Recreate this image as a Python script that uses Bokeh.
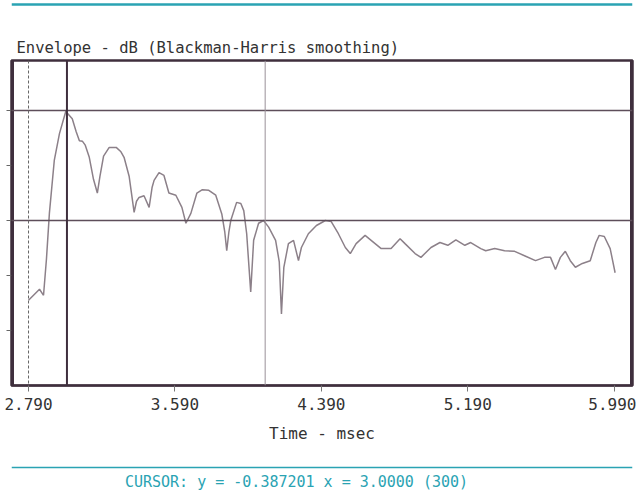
from bokeh.plotting import figure
from bokeh.layouts import column
from bokeh.models import Span, Label, FixedTicker, Range1d, PrintfTickFormatter
from bokeh.embed import file_html
from bokeh.resources import INLINE

time_ms = [2.790, 2.850, 2.872, 2.888, 2.904, 2.931, 2.959, 2.995, 3.000, 3.029, 3.050, 3.068,
           3.085, 3.100, 3.122, 3.145, 3.166, 3.180, 3.200, 3.231, 3.269, 3.295, 3.312, 3.340,
           3.367, 3.380, 3.394, 3.421, 3.449, 3.465, 3.476, 3.503, 3.530, 3.557, 3.595, 3.628,
           3.650, 3.677, 3.710, 3.740, 3.775, 3.813, 3.846, 3.862, 3.873, 3.885, 3.895, 3.927,
           3.950, 3.966, 3.982, 4.004, 4.020, 4.047, 4.074, 4.102, 4.140, 4.160, 4.172, 4.185,
           4.210, 4.238, 4.265, 4.281, 4.319, 4.363, 4.412, 4.444, 4.483, 4.521, 4.548, 4.580,
           4.629, 4.662, 4.717, 4.771, 4.820, 4.847, 4.902, 4.934, 4.989, 5.038, 5.081, 5.125,
           5.174, 5.206, 5.261, 5.288, 5.337, 5.391, 5.446, 5.500, 5.560, 5.609, 5.642, 5.669,
           5.696, 5.723, 5.750, 5.778, 5.816, 5.859, 5.890, 5.908, 5.936, 5.968, 5.995]
env_db = [-34.5, -32.5, -33.6, -27.0, -18.7, -9.0, -4.2, 0.0, -0.39, -1.5, -3.8, -5.5,
          -5.6, -6.3, -8.5, -12.5, -15.0, -12.0, -8.3, -6.7, -6.7, -7.5, -8.5, -12.0,
          -18.5, -16.5, -15.8, -15.5, -17.6, -14.0, -12.7, -11.3, -11.8, -15.0, -15.4, -17.6,
          -20.5, -18.7, -15.0, -14.4, -14.5, -15.4, -18.8, -22.0, -25.5, -22.0, -20.0, -16.7,
          -16.9, -18.2, -22.4, -33.0, -23.6, -20.5, -20.0, -21.2, -23.6, -27.5, -37.0, -28.5,
          -24.2, -23.6, -27.3, -24.9, -22.4, -20.9, -20.0, -20.2, -22.4, -24.9, -26.0, -24.2,
          -22.7, -23.6, -25.1, -25.1, -23.3, -24.2, -26.0, -26.7, -24.9, -24.0, -24.5, -23.5,
          -24.5, -24.0, -25.1, -25.5, -25.1, -25.5, -25.6, -26.4, -27.3, -26.7, -26.7, -28.9,
          -26.7, -25.6, -27.3, -28.5, -27.8, -27.3, -24.0, -22.7, -22.9, -25.1, -29.5]

x_ticks = [2.79, 3.59, 4.39, 5.19, 5.99]
y_ticks = [0, -10, -20, -30, -40]
grid_db = [0, -20]
x_start, x_end = 2.697, 6.09
y_start, y_end = -50, 9.1
start_marker = 2.79
cursor_x = 3.0
second_marker = 4.083

title_text = "Envelope - dB (Blackman-Harris smoothing)"
x_label = "Time - msec"
cursor_text = "CURSOR: y = -0.387201 x = 3.0000 (300)"

MONO = "DejaVu Sans Mono"
FRAME = "#3f2f3d"
CYAN = "#2aa3b3"
TEXT = "#333333"


def strip(fig):
    fig.xaxis.visible = False
    fig.yaxis.visible = False
    fig.xgrid.visible = False
    fig.ygrid.visible = False
    fig.outline_line_color = None
    fig.background_fill_color = "white"
    fig.border_fill_color = "white"


# top cyan rule of the screen
top_bar = figure(width=636, height=12, output_backend="svg", toolbar_location=None,
                 x_range=Range1d(0, 1), y_range=Range1d(0, 12),
                 min_border_left=0, min_border_right=0, min_border_top=0, min_border_bottom=0)
strip(top_bar)
top_bar.add_layout(Span(location=8, dimension="width", line_color=CYAN, line_width=2.5))

# main chart
p = figure(width=636, height=452, output_backend="svg", toolbar_location=None,
           x_range=Range1d(x_start, x_end), y_range=Range1d(y_start, y_end),
           min_border_left=11, min_border_right=4, min_border_top=48, min_border_bottom=79)
p.background_fill_color = "white"
p.border_fill_color = "white"
p.outline_line_color = FRAME
p.outline_line_width = 2.5
p.xgrid.visible = False
p.ygrid.visible = False

p.title.text = title_text
p.title.text_font = MONO
p.title.text_font_size = "15.5px"
p.title.text_font_style = "normal"
p.title.text_color = TEXT
p.title.align = "left"
p.title.offset = 5
p.title.standoff = 7

xa = p.xaxis[0]
xa.ticker = FixedTicker(ticks=x_ticks)
xa.formatter = PrintfTickFormatter(format="%.3f")
xa.axis_line_color = FRAME
xa.axis_line_width = 2
xa.major_tick_out = 6
xa.major_tick_in = 0
xa.minor_tick_line_color = None
xa.major_tick_line_color = "#777777"
xa.major_label_text_font = MONO
xa.major_label_text_font_size = "16px"
xa.major_label_text_color = TEXT
xa.major_label_standoff = 6
xa.axis_label = x_label
xa.axis_label_text_font = MONO
xa.axis_label_text_font_style = "normal"
xa.axis_label_text_font_size = "16px"
xa.axis_label_text_color = TEXT
xa.axis_label_standoff = 11

ya = p.yaxis[0]
ya.ticker = FixedTicker(ticks=y_ticks)
ya.major_label_overrides = {t: "" for t in y_ticks}
ya.major_label_standoff = 0
ya.axis_line_color = None
ya.major_tick_out = 5
ya.major_tick_in = 0
ya.minor_tick_line_color = None
ya.major_tick_line_color = "#666666"

# thick side borders of the frame
for edge in (x_start, x_end):
    p.add_layout(Span(location=edge, dimension="height", line_color=FRAME, line_width=5))

for g in grid_db:
    p.add_layout(Span(location=g, dimension="width", line_color="#5e4e5a", line_width=1.5))
p.add_layout(Span(location=start_marker, dimension="height", line_color="#666666",
                  line_width=1, line_dash="3 2"))
p.add_layout(Span(location=cursor_x, dimension="height", line_color=FRAME, line_width=2))
p.add_layout(Span(location=second_marker, dimension="height", line_color="#9a9098", line_width=1))

p.line(time_ms, env_db, line_color="#8c8089", line_width=1.5)

# cursor status line
status = figure(width=636, height=26, output_backend="svg", toolbar_location=None,
                x_range=Range1d(0, 1), y_range=Range1d(0, 26),
                min_border_left=10, min_border_right=4, min_border_top=0, min_border_bottom=0)
strip(status)
status.add_layout(Span(location=23, dimension="width", line_color=CYAN, line_width=1.5))
status.add_layout(Label(x=285, y=9, x_units="screen", y_units="screen", text=cursor_text,
                        text_font=MONO, text_font_size="15px", text_font_style="normal",
                        text_color=CYAN, text_align="center", text_baseline="middle"))

layout = column(top_bar, p, status, spacing=0)
open("out.html", "w").write(file_html(layout, INLINE))
